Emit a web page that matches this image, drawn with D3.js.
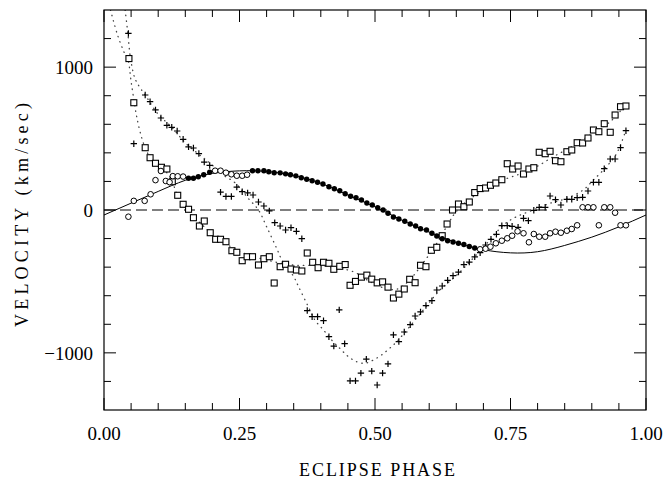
<!DOCTYPE html>
<html>
<head>
<meta charset="utf-8">
<script src="https://cdn.jsdelivr.net/npm/d3@7"></script>
<style>
  body { margin: 0; background: #fff; }
  text { font-family: "Liberation Serif", "DejaVu Serif", serif; fill: #000; }
</style>
</head>
<body>
<script>
// data: [eclipse phase, velocity km/s]
var squarePts = [
  [0.046,1060],[0.055,751],[0.076,436],[0.085,366],[0.095,327],[0.106,299],[0.116,287],
  [0.126,198],[0.136,103],[0.146,40],[0.156,5],[0.165,-54],[0.176,-112],[0.185,-77],
  [0.196,-159],[0.206,-205],[0.215,-205],[0.225,-222],[0.236,-285],[0.245,-296],[0.255,-355],
  [0.264,-327],[0.274,-327],[0.285,-385],[0.295,-341],[0.305,-327],[0.314,-511],[0.325,-397],
  [0.335,-380],[0.345,-413],[0.355,-420],[0.365,-427],[0.375,-301],[0.385,-366],[0.395,-404],
  [0.405,-366],[0.415,-373],[0.424,-415],[0.435,-394],[0.445,-382],[0.454,-527],[0.464,-500],
  [0.475,-470],[0.485,-456],[0.494,-484],[0.504,-510],[0.514,-503],[0.524,-540],[0.534,-616],
  [0.544,-589],[0.554,-553],[0.564,-485],[0.574,-509],[0.584,-387],[0.594,-397],[0.604,-282],
  [0.614,-261],[0.624,-180],[0.633,-98],[0.643,0],[0.654,42],[0.664,23],[0.674,56],
  [0.684,122],[0.694,150],[0.704,154],[0.713,173],[0.723,189],[0.734,212],[0.744,324],
  [0.754,287],[0.764,308],[0.774,252],[0.784,287],[0.793,296],[0.803,404],[0.814,394],
  [0.823,411],[0.833,345],[0.843,338],[0.854,408],[0.863,420],[0.873,471],[0.883,469],
  [0.893,504],[0.903,560],[0.913,548],[0.923,604],[0.934,544],[0.943,665],[0.953,723],
  [0.963,728]
];

var plusPts = [
  [0.045,1236],[0.055,464],[0.076,805],[0.085,758],[0.095,701],[0.105,644],[0.116,593],
  [0.125,579],[0.135,553],[0.146,495],[0.156,442],[0.165,434],[0.175,395],[0.185,335],
  [0.195,312],[0.215,125],[0.225,95],[0.235,95],[0.245,160],[0.255,128],[0.265,120],
  [0.275,105],[0.285,56],[0.295,28],[0.305,-6],[0.315,-89],[0.325,-112],[0.335,-140],
  [0.345,-124],[0.355,-149],[0.365,-201],[0.375,-704],[0.384,-747],[0.394,-747],[0.405,-775],
  [0.415,-887],[0.424,-953],[0.434,-699],[0.444,-936],[0.454,-1196],[0.464,-1196],[0.474,-1142],
  [0.484,-1044],[0.494,-1128],[0.504,-1225],[0.514,-1142],[0.524,-1077],[0.534,-874],[0.544,-921],
  [0.554,-854],[0.565,-803],[0.574,-742],[0.584,-713],[0.594,-669],[0.605,-635],[0.614,-560],
  [0.624,-532],[0.634,-492],[0.644,-460],[0.654,-435],[0.664,-382],[0.674,-365],[0.684,-328],
  [0.694,-299],[0.704,-245],[0.714,-205],[0.724,-170],[0.734,-110],[0.744,-110],[0.753,-114],
  [0.764,-121],[0.774,-58],[0.783,-75],[0.793,-2],[0.803,19],[0.814,19],[0.823,98],[0.833,72],
  [0.843,35],[0.854,75],[0.863,75],[0.873,86],[0.883,89],[0.893,133],[0.903,194],[0.913,194],
  [0.923,289],[0.934,357],[0.943,357],[0.953,436],[0.963,555]
];

var openCirclePts = [
  [0.045,-47],[0.055,64],[0.075,64],[0.086,110],[0.095,209],[0.105,273],[0.114,203],
  [0.121,195],[0.127,237],[0.136,236],[0.146,234],[0.205,275],[0.215,275],[0.225,261],
  [0.235,250],[0.245,240],[0.255,240],[0.264,247],
  [0.694,-275],[0.704,-271],[0.713,-257],[0.723,-233],[0.734,-215],[0.744,-198],[0.753,-180],
  [0.763,-149],[0.774,-163],[0.784,-226],[0.793,-168],[0.803,-187],[0.814,-187],[0.823,-163],
  [0.833,-152],[0.843,-159],[0.854,-145],[0.863,-133],[0.873,-107],[0.883,19],[0.893,19],
  [0.903,19],[0.913,-107],[0.923,19],[0.934,19],[0.943,-19],[0.953,-107],[0.963,-107]
];

var filledDotPts = [
  [0.156,222],[0.165,222],[0.174,233],[0.184,247],[0.195,264],
  [0.274,275],[0.284,275],[0.295,275],[0.304,268],[0.314,261],[0.325,260],[0.335,253],
  [0.344,247],[0.354,239],[0.364,226],[0.374,215],[0.384,205],[0.394,194],[0.404,182],
  [0.415,163],[0.425,149],[0.435,135],[0.445,114],[0.455,96],[0.465,86],[0.475,70],
  [0.485,49],[0.495,35],[0.505,16],[0.515,0],[0.524,-23],[0.534,-49],[0.544,-63],
  [0.555,-79],[0.565,-98],[0.575,-112],[0.584,-131],[0.595,-140],[0.605,-163],[0.614,-182],
  [0.624,-201],[0.634,-215],[0.644,-224],[0.654,-233],[0.664,-242],[0.674,-256],[0.684,-266]
];

// solid model curve, read every 0.05 in phase
var modelCurve = [
  [0.00,-35],[0.05,48],[0.10,130],[0.15,208],[0.20,256],[0.25,274],[0.30,270],[0.35,241],
  [0.40,187],[0.45,105],[0.50,22],[0.55,-72],[0.60,-155],[0.65,-228],[0.70,-278],
  [0.75,-300],[0.80,-292],[0.85,-248],[0.90,-190],[0.95,-118],[1.00,-35]
];

// dotted fits through the squares and the pluses
var squareFit = [
  [0.012,1400],[0.025,1225],[0.038,1097],[0.044,1057],[0.050,900],[0.056,751],[0.061,640],
  [0.069,513],[0.076,436],[0.086,362],[0.100,310],[0.115,265],[0.125,205],[0.134,117],
  [0.143,47],[0.160,-30],[0.180,-100],[0.200,-170],[0.250,-290],[0.300,-350],[0.350,-385],
  [0.400,-390],[0.460,-432],[0.490,-500],[0.520,-550],[0.540,-555],[0.560,-505],[0.589,-370],
  [0.614,-233],[0.632,-117],[0.645,-35],[0.657,19],[0.670,62],[0.700,140],[0.740,215],
  [0.771,257],[0.798,303],[0.829,373],[0.863,443],[0.897,525],[0.934,618],[0.957,712]
];

var plusFit = [
  [0.039,1400],[0.044,1237],[0.049,1060],[0.057,922],[0.066,859],[0.076,805],[0.100,670],
  [0.125,580],[0.150,470],[0.175,390],[0.196,327],[0.220,245],[0.242,190],[0.266,82],
  [0.285,0],[0.300,-117],[0.320,-280],[0.331,-373],[0.349,-460],[0.359,-537],[0.377,-677],
  [0.389,-770],[0.405,-840],[0.420,-910],[0.435,-968],[0.451,-1027],[0.466,-1062],[0.482,-1073],
  [0.497,-1050],[0.512,-1015],[0.528,-965],[0.543,-910],[0.589,-700],[0.620,-560],[0.651,-455],
  [0.681,-338],[0.712,-210],[0.737,-105],[0.761,-47],[0.792,0],[0.823,47],[0.854,82],
  [0.884,140],[0.903,210],[0.927,303],[0.946,397],[0.963,560]
];

var xTickLabels = ["0.00", "0.25", "0.50", "0.75", "1.00"];
var yTickLabels = ["\u22121000", "0", "1000"];

var svgWidth = 667;
var svgHeight = 479;

var leftMargin = 104;
var rightMargin = 21;
var topMargin = 10;
var bottomMargin = 69;

var chartWidth = svgWidth - leftMargin - rightMargin;
var chartHeight = svgHeight - topMargin - bottomMargin;

var svg = d3.select("body")
    .append("svg")
    .attr("width", svgWidth)
    .attr("height", svgHeight);

var chartGroup = svg.append("g")
    .attr("transform", `translate(${leftMargin}, ${topMargin})`);

var xScale = d3.scaleLinear().domain([0, 1]).range([0, chartWidth]);
var yScale = d3.scaleLinear().domain([-1400, 1400]).range([chartHeight, 0]);

svg.append("defs").append("clipPath")
    .attr("id", "plotclip")
    .append("rect")
    .attr("width", chartWidth)
    .attr("height", chartHeight);

var plot = chartGroup.append("g").attr("clip-path", "url(#plotclip)");

// zero line
plot.append("line")
    .attr("x1", 0).attr("x2", chartWidth)
    .attr("y1", yScale(0)).attr("y2", yScale(0))
    .attr("stroke", "#000")
    .attr("stroke-width", 1)
    .attr("stroke-dasharray", "11,5");

var line = d3.line()
    .x(d => xScale(d[0]))
    .y(d => yScale(d[1]));

plot.append("path")
    .datum(modelCurve)
    .attr("d", line.curve(d3.curveNatural))
    .attr("fill", "none")
    .attr("stroke", "#000")
    .attr("stroke-width", 1);

[squareFit, plusFit].forEach(function(fit) {
    plot.append("path")
        .datum(fit)
        .attr("d", line.curve(d3.curveCatmullRom.alpha(0.5)))
        .attr("fill", "none")
        .attr("stroke", "#444")
        .attr("stroke-width", 1.3)
        .attr("stroke-linecap", "round")
        .attr("stroke-dasharray", "0.5,5");
});

// markers
plot.selectAll("rect.sq")
    .data(squarePts)
    .enter()
    .append("rect")
    .attr("class", "sq")
    .attr("x", d => xScale(d[0]) - 3)
    .attr("y", d => yScale(d[1]) - 3)
    .attr("width", 6)
    .attr("height", 6)
    .attr("fill", "#fff")
    .attr("stroke", "#000")
    .attr("stroke-width", 1.1);

plot.selectAll("path.plus")
    .data(plusPts)
    .enter()
    .append("path")
    .attr("class", "plus")
    .attr("d", d => {
        var x = xScale(d[0]), y = yScale(d[1]);
        return `M${x - 3.2},${y}H${x + 3.2}M${x},${y - 3.2}V${y + 3.2}`;
    })
    .attr("stroke", "#000")
    .attr("stroke-width", 1.2);

plot.selectAll("circle.open")
    .data(openCirclePts)
    .enter()
    .append("circle")
    .attr("class", "open")
    .attr("cx", d => xScale(d[0]))
    .attr("cy", d => yScale(d[1]))
    .attr("r", 2.8)
    .attr("fill", "#fff")
    .attr("stroke", "#000")
    .attr("stroke-width", 1);

plot.selectAll("circle.filled")
    .data(filledDotPts)
    .enter()
    .append("circle")
    .attr("class", "filled")
    .attr("cx", d => xScale(d[0]))
    .attr("cy", d => yScale(d[1]))
    .attr("r", 2.7)
    .attr("fill", "#000");

// frame
chartGroup.append("rect")
    .attr("width", chartWidth)
    .attr("height", chartHeight)
    .attr("fill", "none")
    .attr("stroke", "#000")
    .attr("stroke-width", 1.2);

// inward ticks on all four sides
var xMinor = d3.range(0, 1.0001, 0.05);
var yMinor = d3.range(-1200, 1201, 200);
var isMajorX = v => Math.abs(v * 4 - Math.round(v * 4)) < 1e-6;
var isMajorY = v => v % 1000 === 0;

var tickGroup = chartGroup.append("g").attr("stroke", "#000").attr("stroke-width", 1);
xMinor.forEach(function(v) {
    var len = isMajorX(v) ? 12 : 7;
    tickGroup.append("line")
        .attr("x1", xScale(v)).attr("x2", xScale(v))
        .attr("y1", chartHeight).attr("y2", chartHeight - len);
    tickGroup.append("line")
        .attr("x1", xScale(v)).attr("x2", xScale(v))
        .attr("y1", 0).attr("y2", len);
});
yMinor.forEach(function(v) {
    var len = isMajorY(v) ? 12 : 7;
    tickGroup.append("line")
        .attr("x1", 0).attr("x2", len)
        .attr("y1", yScale(v)).attr("y2", yScale(v));
    tickGroup.append("line")
        .attr("x1", chartWidth).attr("x2", chartWidth - len)
        .attr("y1", yScale(v)).attr("y2", yScale(v));
});

// tick labels
chartGroup.selectAll("text.xlab")
    .data(xTickLabels)
    .enter()
    .append("text")
    .attr("class", "xlab")
    .attr("x", d => xScale(+d))
    .attr("y", chartHeight + 30)
    .attr("text-anchor", "middle")
    .attr("font-size", "19px")
    .text(d => d);

chartGroup.selectAll("text.ylab")
    .data(yTickLabels)
    .enter()
    .append("text")
    .attr("class", "ylab")
    .attr("x", -11)
    .attr("y", d => yScale(+d.replace("\u2212", "-")) + 7)
    .attr("text-anchor", "end")
    .attr("font-size", "19px")
    .text(d => d);

// axis titles
chartGroup.append("text")
    .attr("x", chartWidth / 2 + 2)
    .attr("y", chartHeight + 66)
    .attr("text-anchor", "middle")
    .attr("font-size", "18px")
    .attr("textLength", 156)
    .attr("lengthAdjust", "spacing")
    .text("ECLIPSE PHASE");

chartGroup.append("text")
    .attr("transform", `translate(-76, ${chartHeight / 2 + 5}) rotate(-90)`)
    .attr("text-anchor", "middle")
    .attr("font-size", "18px")
    .attr("textLength", 224)
    .attr("lengthAdjust", "spacing")
    .text("VELOCITY  (km/sec)");
</script>
</body>
</html>
